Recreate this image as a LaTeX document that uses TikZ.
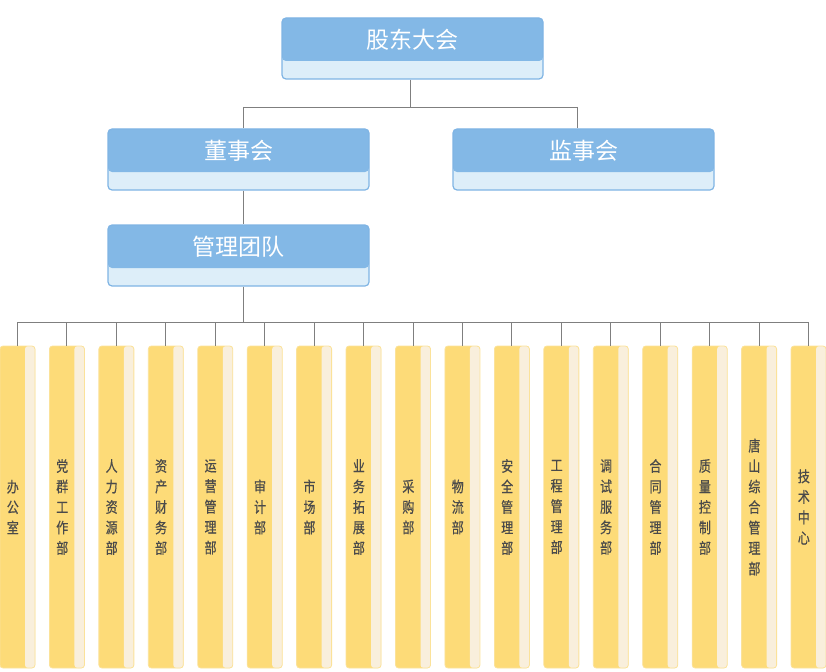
\documentclass[tikz,border=0pt]{standalone}
\usepackage{fontspec}
\setmainfont{Noto Sans CJK SC}
\newfontfamily\cjk{Noto Sans CJK SC}
\newfontfamily\deptfont[FakeBold=0.5,FakeStretch=0.8]{Noto Sans CJK SC}
\definecolor{topblue}{HTML}{83B8E6}
\definecolor{lowblue}{HTML}{DDEEF9}
\definecolor{edgeblue}{HTML}{7FB4E4}
\definecolor{deptyellow}{HTML}{FDDB78}
\definecolor{deptstrip}{HTML}{F9EFDC}
\definecolor{edgeyellow}{HTML}{FBE29A}
\definecolor{conncol}{HTML}{7F7F7F}
\definecolor{depttext}{HTML}{4A4A4A}
\tikzset{
  bluebox/.style={rectangle, rounded corners=4pt, minimum width=261pt, minimum height=61pt,
    inner sep=0pt, fill=lowblue, draw=edgeblue, line width=1.2pt,
    path picture={\fill[topblue] (path picture bounding box.north west) rectangle ([yshift=18pt]path picture bounding box.south east);}},
  bluetitle/.style={text=white, font=\cjk\fontsize{23}{23}\selectfont, inner sep=0pt},
  deptbox/.style={rectangle, rounded corners=3pt, minimum width=35pt, minimum height=322pt,
    inner sep=0pt, fill=deptyellow, draw=edgeyellow, line width=0.8pt,
    path picture={\fill[deptstrip] ([xshift=-10pt]path picture bounding box.north east) rectangle (path picture bounding box.south east);}},
  depttitle/.style={text=depttext, font=\deptfont\fontsize{15}{20.5}\selectfont, align=center, inner sep=0pt},
  conn/.style={draw=conncol, line width=0.9pt}
}
\begin{document}
\begin{tikzpicture}[x=1pt,y=-1pt]
\useasboundingbox (0,0) rectangle (826,671);
% top boxes
\node[bluebox] (gd) at (412.5,48.5) {};
\node[bluetitle] (gdt) at (412.5,40) {股东大会};
\node[bluebox] (ds) at (238.5,159.5) {};
\node[bluetitle] (dst) at (238.5,151) {董事会};
\node[bluebox] (js) at (583.5,159.5) {};
\node[bluetitle] (jst) at (583.5,151) {监事会};
\node[bluebox] (gl) at (238.5,255.5) {};
\node[bluetitle] (glt) at (238.5,247) {管理团队};
% connectors top
\coordinate (j0) at (410,107);
\coordinate (j1) at (243,107);
\coordinate (j2) at (577,107);
\draw[conn] (j0|-gd.south) -- (j0);
\draw[conn] (j1) -- (j2);
\draw[conn] (j1) -- (j1|-ds.north);
\draw[conn] (j2) -- (j2|-js.north);
\coordinate (k0) at (243,322);
\draw[conn] (k0|-ds.south) -- (k0|-gl.north);
\draw[conn] (k0|-gl.south) -- (k0);
% departments
\foreach \i/\t in {0/{办\\公\\室},1/{党\\群\\工\\作\\部},2/{人\\力\\资\\源\\部},3/{资\\产\\财\\务\\部},4/{运\\营\\管\\理\\部},5/{审\\计\\部},6/{市\\场\\部},7/{业\\务\\拓\\展\\部},8/{采\\购\\部},9/{物\\流\\部},10/{安\\全\\管\\理\\部},11/{工\\程\\管\\理\\部},12/{调\\试\\服\\务\\部},13/{合\\同\\管\\理\\部},14/{质\\量\\控\\制\\部},15/{唐\\山\\综\\合\\管\\理\\部},16/{技\\术\\中\\心}}{
  \node[deptbox] (d\i) at ({17.5+49.44*\i},507) {};
  \node[depttitle] (dt\i) at ({12.8+49.44*\i},507) {\t};
}
\coordinate (k1) at (17.5,322);
\coordinate (k2) at (808.5,322);
\draw[conn] (k1) -- (k2);
\foreach \i in {0,...,16}{
  \draw[conn] (d\i.north|-k1) -- (d\i.north);
}
\end{tikzpicture}
\end{document}
